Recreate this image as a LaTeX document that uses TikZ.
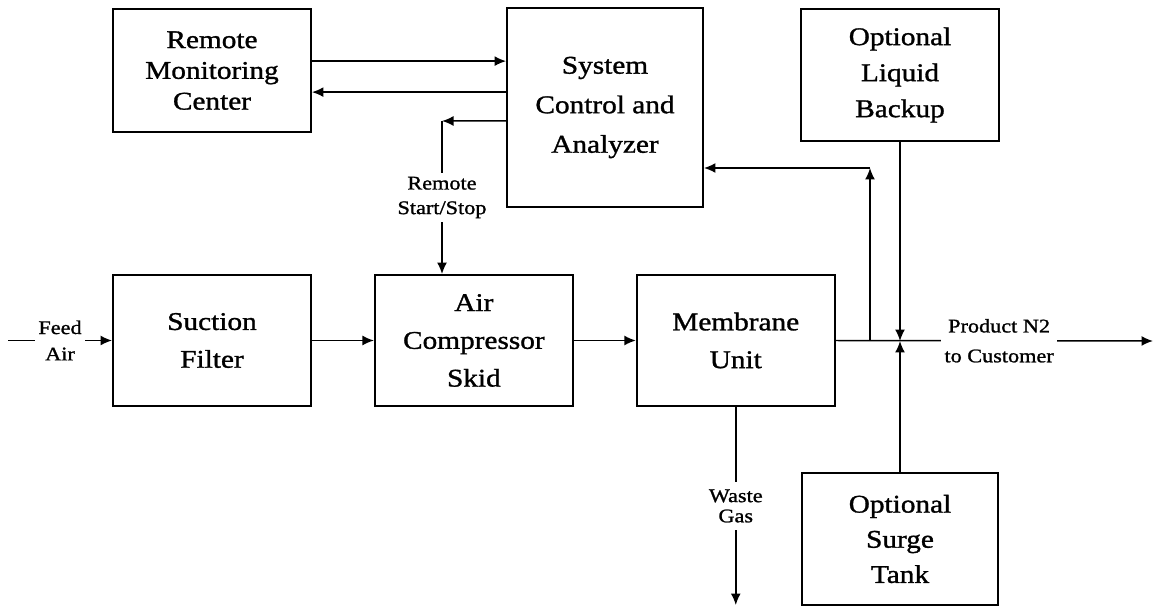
\documentclass[tikz,border=0pt]{standalone}
\usepackage{fontspec}
\setmainfont{Liberation Serif}[FakeStretch=1.15,FakeBold=1.2]
\usetikzlibrary{arrows.meta,positioning}
\begin{document}
\begin{tikzpicture}[x=0.02cm,y=-0.02cm,box/.style={draw=black,line width=1.1pt,align=center,font=\fontsize{14.5}{21.5}\selectfont,minimum width=3.96cm,minimum height=2.62cm},arr/.style={-{Latex[length=2.3mm,width=2mm]},draw=black,line width=0.85pt},lbl/.style={fill=white,align=center,inner sep=2pt,font=\fontsize{11}{15}\selectfont}]
\useasboundingbox (0,0) rectangle (1155,607);
\node[box] (sf) at (212,340.5) {Suction\\Filter};
\node[box,right=1.24cm of sf] (acs) {Air\\Compressor\\Skid};
\node[box,right=1.24cm of acs] (mu) {Membrane\\Unit};
\node[box,above=2.82cm of sf,minimum height=2.46cm,font=\fontsize{14.5}{17.5}\selectfont] (rmc) {Remote\\Monitoring\\Center};
\node[box,minimum width=3.92cm,minimum height=3.98cm,font=\fontsize{14.5}{22.5}\selectfont] (sca) at (605,107.5) {System\\Control and\\Analyzer};
\node[box,minimum height=2.64cm,font=\fontsize{14.5}{20.5}\selectfont] (olb) at (900,75) {Optional\\Liquid\\Backup};
\node[box,minimum width=3.92cm,minimum height=2.64cm,font=\fontsize{14.5}{20}\selectfont] (ost) at (900,539) {Optional\\Surge\\Tank};
\coordinate (feedin) at (8,340.5);\coordinate (ss) at (442,121);\coordinate (wasteout) at (736,605);
\coordinate (jn) at (900,341);\coordinate (tap) at (870,341);\coordinate (fb) at (870,168);\coordinate (prodout) at (1153,341);
\draw[arr](feedin)--node[lbl]{Feed\\Air}(sf.west);\draw[arr](sf)--(acs);\draw[arr](acs)--(mu);
\draw[arr]([yshift=0.19cm]rmc.east)--([yshift=0.19cm]rmc.east -| sca.west);\draw[arr]([yshift=-0.43cm]rmc.east -| sca.west)--([yshift=-0.43cm]rmc.east);
\draw[arr]([yshift=-0.27cm]sca.west)--(ss);\draw[arr](ss)--node[lbl,font=\fontsize{11}{14}\selectfont]{Remote\\Start/Stop}(ss |- acs.north);
\draw[arr](mu.south)--node[lbl,font=\fontsize{11}{11.5}\selectfont,inner sep=4pt]{Waste\\Gas}(mu.south |- wasteout);
\draw[arr](mu.east)--node[lbl,pos=0.515,font=\fontsize{11}{17}\selectfont]{Product N2\\to Customer}(prodout);
\draw[arr](tap)--(fb);\draw[arr](fb)--(fb -| sca.east);
\draw[arr](olb.south)--(jn);\draw[arr](ost.north)--(jn);
\end{tikzpicture}
\end{document}
